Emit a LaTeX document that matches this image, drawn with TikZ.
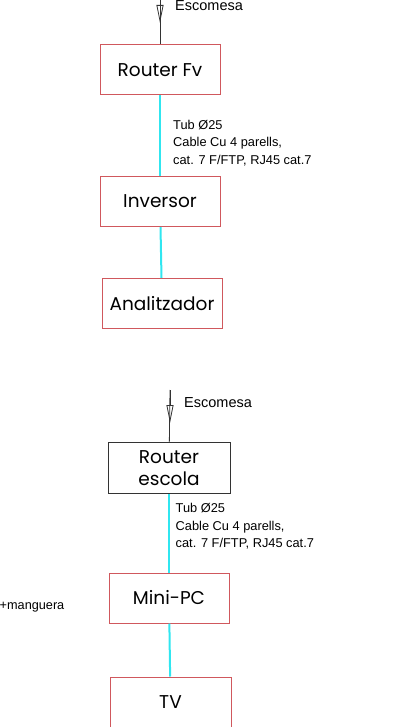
\documentclass[tikz,border=0pt]{standalone}
\usepackage{fontspec}
\setmainfont{Liberation Sans}
\newfontfamily\boxfont{Poppins}
\usetikzlibrary{arrows.meta}
\definecolor{BoxRed}{HTML}{D0585D}
\definecolor{Cable}{HTML}{30E6F0}

\begin{document}
\begin{tikzpicture}[x=1pt, y=-1pt,
  equip/.style={draw=BoxRed, line width=1pt, minimum width=120pt, minimum height=50pt,
    align=center, font=\boxfont\fontsize{18.5}{22.5}\selectfont},
  cable/.style={Cable, line width=2pt},
  feed/.style={black!80, line width=0.8pt},
  feedtip/.style={black!80, line width=0.8pt, -{Triangle[open, length=18pt, width=7pt]}},
  tag/.style={font=\fontsize{14.5}{16}\selectfont, anchor=west, inner sep=0pt},
  note/.style={font=\fontsize{12.8}{17.5}\selectfont, align=left, anchor=north west, inner sep=0pt}]
  \useasboundingbox (0,0) rectangle (401,727);
  % first installation
  \coordinate (esc1) at (160,-2);
  \node[equip] (rfv) at (160,70) {Router Fv};
  \node[equip] (inv) at (160,201.5) {Inversor};
  \node[equip] (anl) at (162,303.5) {Analitzador};
  \draw[feed] (esc1) -- (rfv);
  \draw[feedtip] (esc1) -- ++(0,25);
  \node[tag] (esctxt1) at (175,6) {Escomesa};
  \draw[cable] (rfv) -- (inv);
  \draw[cable] (inv) -- (anl);
  \node[note] (cab1) at (173,120) {Tub Ø25\\Cable Cu 4 parells,\\cat. 7 F/FTP, RJ45 cat.7};
  % second installation
  \coordinate (esc2) at (170,390);
  \node[equip, draw=black!80, minimum width=122pt, minimum height=51pt] (rsc) at (169,468) {Router\\escola};
  \node[equip] (mpc) at (169,598) {Mini-PC};
  \node[equip, minimum width=121pt] (tv) at (170.5,702) {TV};
  \draw[feed] (esc2) -- (rsc);
  \draw[feedtip] (esc2) -- ++(0,33);
  \node[tag] (esctxt2) at (184,403) {Escomesa};
  \draw[cable] (rsc) -- (mpc);
  \draw[cable] (mpc) -- (tv);
  \node[note] (cab2) at (175.5,503.5) {Tub Ø25\\Cable Cu 4 parells,\\cat. 7 F/FTP, RJ45 cat.7};
  \node[font=\fontsize{12.7}{14}\selectfont, anchor=west, inner sep=0pt] (mang) at (-0.5,607) {+manguera};
\end{tikzpicture}
\end{document}
